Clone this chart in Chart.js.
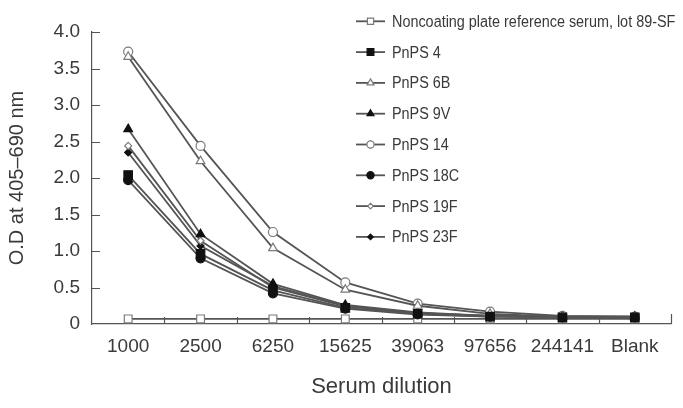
<!DOCTYPE html>
<html>
<head>
<meta charset="utf-8">
<script src="https://cdn.jsdelivr.net/npm/chart.js@4/dist/chart.umd.min.js"></script>
<style>
  html, body { margin: 0; padding: 0; background: #fff; }
  #wrap { width: 683px; height: 408px; position: relative; }
</style>
</head>
<body>
<div id="wrap"><canvas id="chart"></canvas></div>
<script>
// Serum dilutions on the x axis
const categories = ['1000', '2500', '6250', '15625', '39063', '97656', '244141', 'Blank'];

// O.D readings
const noncoating = [0.07, 0.07, 0.07, 0.07, 0.07, 0.07, 0.07, 0.07];
const pnps4   = [2.04, 0.96, 0.46, 0.22, 0.14, 0.10, 0.09, 0.09];
const pnps6B  = [3.66, 2.23, 1.04, 0.47, 0.25, 0.14, 0.10, 0.09];
const pnps9V  = [2.67, 1.23, 0.55, 0.26, 0.16, 0.11, 0.10, 0.10];
const pnps14  = [3.73, 2.44, 1.26, 0.57, 0.28, 0.17, 0.11, 0.10];
const pnps18C = [1.97, 0.90, 0.42, 0.21, 0.13, 0.10, 0.09, 0.09];
const pnps19F = [2.44, 1.14, 0.50, 0.24, 0.15, 0.11, 0.10, 0.09];
const pnps23F = [2.35, 1.07, 0.52, 0.25, 0.15, 0.11, 0.10, 0.10];

const yTicks = [0, 0.5, 1.0, 1.5, 2.0, 2.5, 3.0, 3.5, 4.0];

const LINE = '#555';
const OPEN = '#7a7a7a';
const FILL = '#111';
const TEXT = '#3a3a3a';

function series(label, data, style, filled, radius) {
  return {
    label: label,
    data: data,
    borderColor: LINE,
    borderWidth: 1.8,
    tension: 0,
    pointStyle: style,
    pointRadius: radius,
    pointHoverRadius: radius,
    pointBackgroundColor: filled ? FILL : '#fff',
    pointBorderColor: filled ? FILL : OPEN,
    pointBorderWidth: 1.2
  };
}

const datasets = [
  series('Noncoating plate reference serum, lot 89-SF', noncoating, 'rect', false, 5.5),
  series('PnPS 4', pnps4, 'rect', true, 6),
  series('PnPS 6B', pnps6B, 'triangle', false, 5),
  series('PnPS 9V', pnps9V, 'triangle', true, 5),
  series('PnPS 14', pnps14, 'circle', false, 4.5),
  series('PnPS 18C', pnps18C, 'circle', true, 4.5),
  series('PnPS 19F', pnps19F, 'rectRot', false, 3.5),
  series('PnPS 23F', pnps23F, 'rectRot', true, 3.5)
];
// noncoating squares sit under the others
datasets[0].order = 10;

// short tick marks pointing into the plot
const innerTicks = {
  id: 'innerTicks',
  afterDatasetsDraw(chart) {
    const ctx = chart.ctx;
    const x = chart.scales.x, y = chart.scales.y;
    const area = chart.chartArea;
    ctx.save();
    ctx.strokeStyle = LINE;
    ctx.lineWidth = 1.2;
    ctx.beginPath();
    yTicks.forEach(v => {
      if (v === 0) return;
      const py = Math.round(y.getPixelForValue(v)) + 0.5;
      ctx.moveTo(area.left, py);
      ctx.lineTo(area.left + 8, py);
    });
    const step = (area.right - area.left) / categories.length;
    for (let i = 1; i <= categories.length; i++) {
      const px = Math.round(x.getPixelForValue(i - 1) + step / 2) + 0.5;
      ctx.moveTo(px, area.bottom);
      ctx.lineTo(px, area.bottom - (i === categories.length ? 10 : 7));
    }
    ctx.stroke();
    ctx.restore();
  }
};

// legend drawn over the plot, line sample with marker in the middle
const overlayLegend = {
  id: 'overlayLegend',
  afterDraw(chart) {
    const ctx = chart.ctx;
    ctx.save();
    chart.data.datasets.forEach((ds, i) => {
      const cy = 21.3 + i * 30.8;
      ctx.strokeStyle = LINE;
      ctx.lineWidth = 1.8;
      ctx.beginPath();
      ctx.moveTo(356, cy);
      ctx.lineTo(385, cy);
      ctx.stroke();
      ctx.fillStyle = ds.pointBackgroundColor;
      ctx.strokeStyle = ds.pointBorderColor;
      ctx.lineWidth = 1.2;
      Chart.helpers.drawPoint(ctx, { pointStyle: ds.pointStyle, radius: ds.pointRadius * 0.8, borderWidth: 1.2, rotation: 0 }, 370.5, cy);
      ctx.save();
      ctx.translate(392, cy);
      ctx.scale(0.9, 1);
      ctx.fillStyle = TEXT;
      ctx.font = '16px "Liberation Sans", Arial, sans-serif';
      ctx.textBaseline = 'middle';
      ctx.fillText(ds.label, 0, 1);
      ctx.restore();
    });
    ctx.restore();
  }
};

new Chart(document.getElementById('chart'), {
  type: 'line',
  data: { labels: categories, datasets: datasets },
  options: {
    responsive: true,
    maintainAspectRatio: false,
    animation: false,
    layout: { padding: { top: 32, right: 12, left: 0, bottom: 0 } },
    plugins: {
      legend: { display: false },
      tooltip: { enabled: false }
    },
    scales: {
      x: {
        type: 'category',
        offset: true,
        grid: { display: true, drawOnChartArea: false, drawTicks: false, offset: true },
        border: { display: true, color: LINE, width: 1.2 },
        ticks: {
          color: TEXT,
          font: { family: '"Liberation Sans", Arial, sans-serif', size: 19 },
          padding: 11,
          autoSkip: false,
          maxRotation: 0
        },
        title: {
          display: true,
          text: 'Serum dilution',
          color: TEXT,
          font: { family: '"Liberation Sans", Arial, sans-serif', size: 22 },
          padding: { top: 0, bottom: 8 }
        },
        afterFit(scale) { scale.height = 84; }
      },
      y: {
        min: 0,
        max: 4,
        afterBuildTicks(scale) { scale.ticks = yTicks.map(v => ({ value: v })); },
        grid: { display: true, drawOnChartArea: false, drawTicks: false },
        border: { display: true, color: LINE, width: 1.2 },
        ticks: {
          color: TEXT,
          font: { family: '"Liberation Sans", Arial, sans-serif', size: 19 },
          padding: 12,
          callback: v => v === 0 ? '0' : v.toFixed(1)
        },
        title: {
          display: true,
          text: 'O.D at 405–690 nm',
          color: TEXT,
          font: { family: '"Liberation Sans", Arial, sans-serif', size: 20 },
          padding: { top: 5, bottom: 0 }
        },
        afterFit(scale) { scale.width = 92; }
      }
    }
  },
  plugins: [innerTicks, overlayLegend]
});
</script>
</body>
</html>
